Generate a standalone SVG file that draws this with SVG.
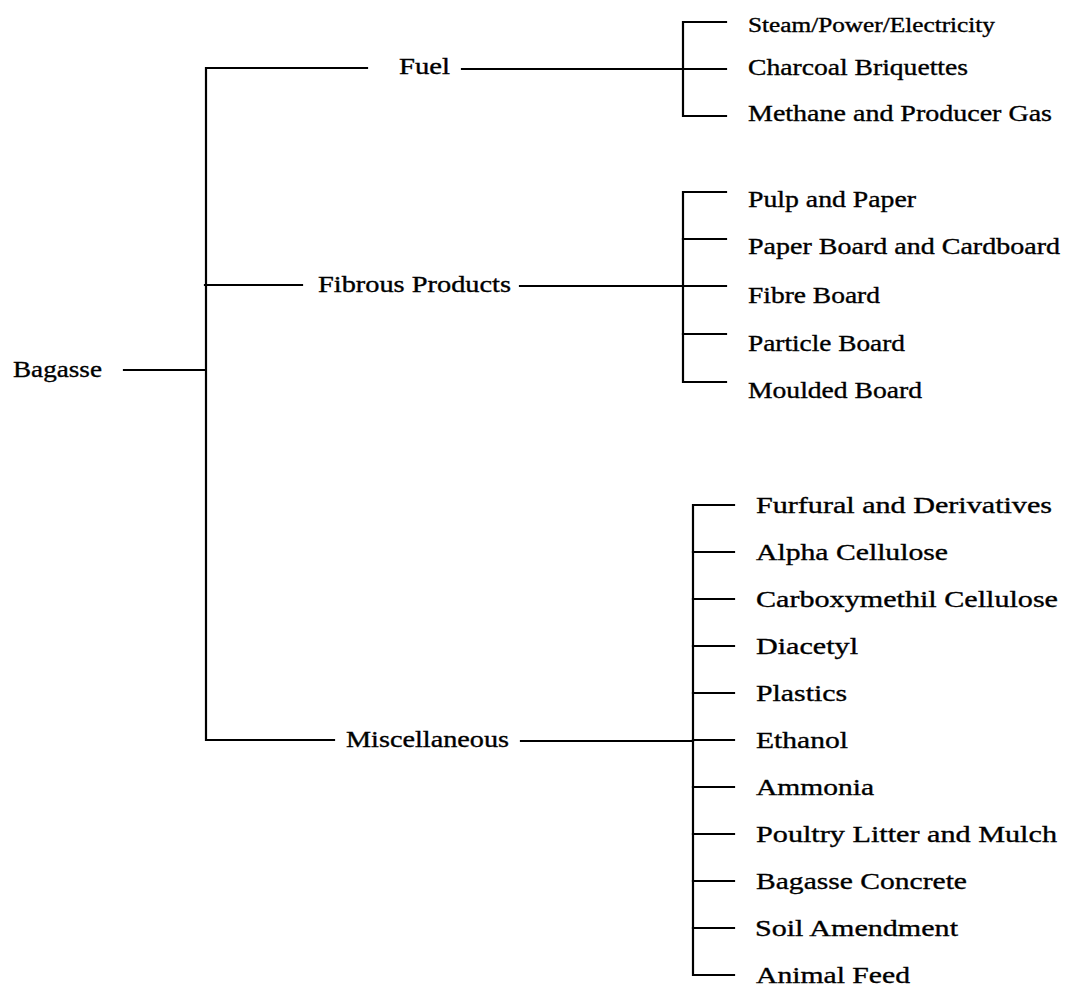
<svg xmlns="http://www.w3.org/2000/svg" width="1065" height="987" viewBox="0 0 1065 987">
<style>
  .ln { stroke:#000; stroke-width:2.2; fill:none; stroke-linecap:square; }
  .t { font-family:"Liberation Serif","Times New Roman",serif; font-size:23px; fill:#000; stroke:#000; stroke-width:0.35; }
  .s { font-size:20px; }
  .m { font-size:24px; }
</style>
<rect width="1065" height="987" fill="#fff"/>
<g id="connectors">
  <path class="ln" d="M124,370 H205"/>
  <path class="ln" d="M367,68 H206 V740 H334"/>
  <path class="ln" d="M205,285 H302"/>
  <path class="ln" d="M462,69 H683"/>
  <path class="ln" d="M726,22 H683 V116 H726"/>
  <path class="ln" d="M683,69 H726"/>
  <path class="ln" d="M520,286 H683"/>
  <path class="ln" d="M726,192 H683 V382 H726"/>
  <path class="ln" d="M683,239 H726 M683,286 H726 M683,334 H726"/>
  <path class="ln" d="M521,741 H693"/>
  <path class="ln" d="M734,505 H693 V975 H734"/>
  <path class="ln" d="M693,552 H734 M693,599 H734 M693,646 H734 M693,693 H734 M693,740 H734 M693,787 H734 M693,834 H734 M693,881 H734 M693,928 H734"/>
</g>
<g id="n-bagasse"><text class="t" x="13" y="377" textLength="89" lengthAdjust="spacingAndGlyphs">Bagasse</text></g>
<g id="n-fuel"><text class="t" x="399" y="74" textLength="51" lengthAdjust="spacingAndGlyphs">Fuel</text></g>
<g id="n-fibrous"><text class="t" x="318" y="292" textLength="193" lengthAdjust="spacingAndGlyphs">Fibrous Products</text></g>
<g id="n-misc"><text class="t" x="346" y="747" textLength="163" lengthAdjust="spacingAndGlyphs">Miscellaneous</text></g>

<g id="n-steam"><text class="t s" x="748" y="32" textLength="247" lengthAdjust="spacingAndGlyphs">Steam/Power/Electricity</text></g>
<g id="n-charcoal"><text class="t" x="748" y="75" textLength="220" lengthAdjust="spacingAndGlyphs">Charcoal Briquettes</text></g>
<g id="n-methane"><text class="t" x="748" y="121" textLength="304" lengthAdjust="spacingAndGlyphs">Methane and Producer Gas</text></g>

<g id="n-pulp"><text class="t" x="748" y="207" textLength="168" lengthAdjust="spacingAndGlyphs">Pulp and Paper</text></g>
<g id="n-paperboard"><text class="t" x="748" y="254" textLength="312" lengthAdjust="spacingAndGlyphs">Paper Board and Cardboard</text></g>
<g id="n-fibreboard"><text class="t" x="748" y="303" textLength="132" lengthAdjust="spacingAndGlyphs">Fibre Board</text></g>
<g id="n-particle"><text class="t" x="748" y="351" textLength="157" lengthAdjust="spacingAndGlyphs">Particle Board</text></g>
<g id="n-moulded"><text class="t" x="748" y="398" textLength="174" lengthAdjust="spacingAndGlyphs">Moulded Board</text></g>

<g id="n-furfural"><text class="t m" x="756" y="513" textLength="296" lengthAdjust="spacingAndGlyphs">Furfural and Derivatives</text></g>
<g id="n-alpha"><text class="t m" x="756" y="560" textLength="192" lengthAdjust="spacingAndGlyphs">Alpha Cellulose</text></g>
<g id="n-carboxy"><text class="t m" x="756" y="607" textLength="302" lengthAdjust="spacingAndGlyphs">Carboxymethil Cellulose</text></g>
<g id="n-diacetyl"><text class="t m" x="756" y="654" textLength="102" lengthAdjust="spacingAndGlyphs">Diacetyl</text></g>
<g id="n-plastics"><text class="t m" x="756" y="701" textLength="91" lengthAdjust="spacingAndGlyphs">Plastics</text></g>
<g id="n-ethanol"><text class="t m" x="756" y="748" textLength="92" lengthAdjust="spacingAndGlyphs">Ethanol</text></g>
<g id="n-ammonia"><text class="t m" x="756" y="795" textLength="118" lengthAdjust="spacingAndGlyphs">Ammonia</text></g>
<g id="n-poultry"><text class="t m" x="756" y="842" textLength="301" lengthAdjust="spacingAndGlyphs">Poultry Litter and Mulch</text></g>
<g id="n-concrete"><text class="t m" x="756" y="889" textLength="211" lengthAdjust="spacingAndGlyphs">Bagasse Concrete</text></g>
<g id="n-soil"><text class="t m" x="755" y="936" textLength="203" lengthAdjust="spacingAndGlyphs">Soil Amendment</text></g>
<g id="n-feed"><text class="t m" x="756" y="983" textLength="154" lengthAdjust="spacingAndGlyphs">Animal Feed</text></g>
</svg>
